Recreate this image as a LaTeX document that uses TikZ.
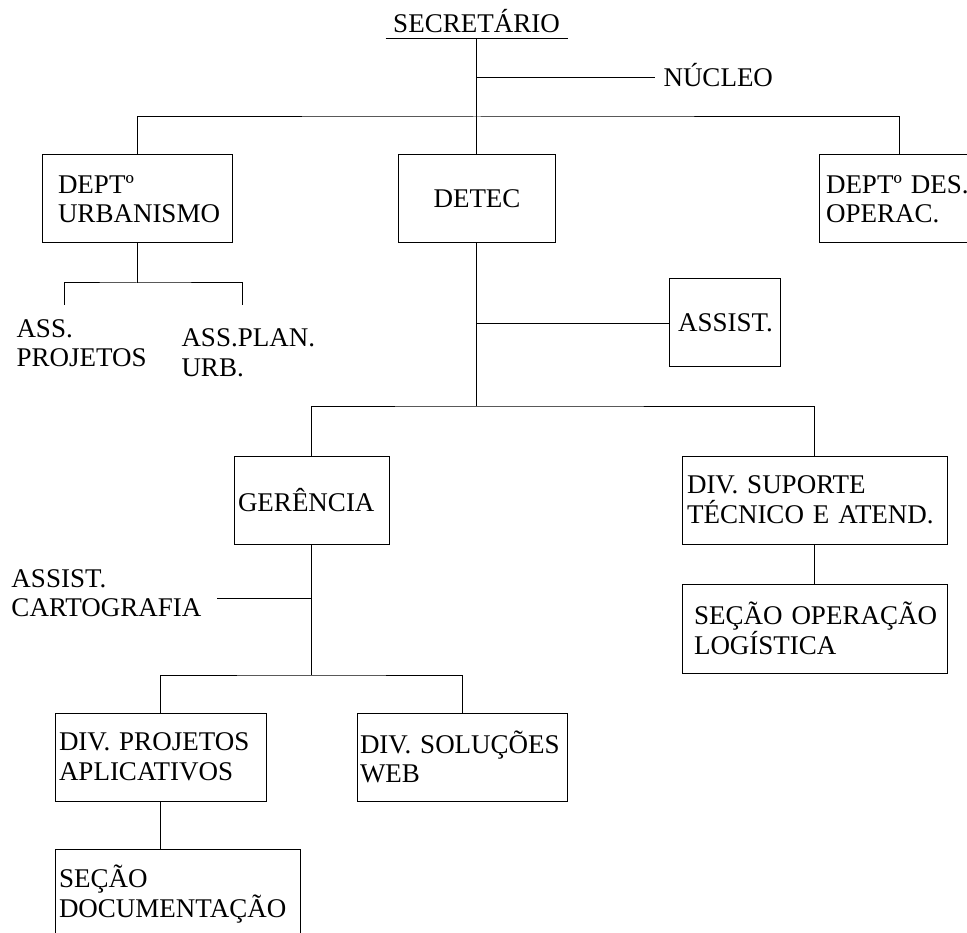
\documentclass[tikz,border=0pt]{standalone}
\usepackage{fontspec}
\setmainfont{Liberation Serif}
\begin{document}
\begin{tikzpicture}[x=1pt,y=-1pt,line width=1pt,
  every node/.style={font=\fontsize{27}{29.5}\selectfont},
  box/.style={draw,align=left,inner ysep=0pt},
  lbl/.style={inner sep=0pt,align=left}]
\useasboundingbox (0,0) rectangle (967,933);
% nodes
\node[anchor=base,minimum width=181pt,inner xsep=0pt,inner ysep=5pt,text depth=0pt] (sec) at (476.5,33) {SECRETÁRIO};
\node[anchor=base west,inner xsep=8pt,inner ysep=0pt] (nuc) at (655,87) {NÚCLEO};
\node[box,inner xsep=16pt,text width=158pt,minimum height=88pt] (urb) at (137,199) {DEPTº\\URBANISMO};
\node[box,align=center,inner xsep=4pt,text width=149pt,minimum height=88pt] (detec) at (477,199) {DETEC};
\node[box,inner xsep=7pt,text width=146pt,minimum height=88pt] (des) at (899,199) {DEPTº DES.\\OPERAC.};
\node[lbl,anchor=west] (assp) at (16,343) {ASS.\\PROJETOS};
\node[lbl,anchor=west] (aspu) at (181,353) {ASS.PLAN.\\URB.};
\node[box,inner xsep=9pt,text width=93pt,minimum height=88pt] (assist) at (724.5,323) {ASSIST.};
\node[box,inner xsep=4pt,text width=147pt,minimum height=88pt] (ger) at (311.5,500) {GERÊNCIA};
\node[box,inner xsep=5pt,text width=255pt,minimum height=88pt] (sup) at (814.5,500) {\mbox{DIV. SUPORTE}\\\mbox{TÉCNICO E ATEND.}};
\node[box,inner xsep=12pt,text width=241pt,minimum height=89pt] (sop) at (814.5,628.5) {\mbox{SEÇÃO OPERAÇÃO}\\LOGÍSTICA};
\node[lbl,anchor=west] (cart) at (11,593) {ASSIST.\\CARTOGRAFIA};
\node[box,inner xsep=4pt,text width=203pt,minimum height=88pt] (dp) at (160.5,757) {\mbox{DIV. PROJETOS}\\APLICATIVOS};
\node[box,inner xsep=3pt,text width=204pt,minimum height=88pt] (ds) at (462,757) {\mbox{DIV. SOLUÇÕES}\\WEB};
\node[box,inner xsep=4pt,text width=237pt,minimum height=90pt] (sdoc) at (177.5,894) {SEÇÃO\\DOCUMENTAÇÃO};
% connectors
\draw (sec.south west) -- (sec.south east);
\coordinate (jn) at (476.5,78);
\coordinate (j1) at (476.5,117);
\draw (sec.south) -- (sec.south |- detec.north);
\draw (jn) -- (jn -| nuc.west);
\draw (urb.north) |- (j1) -| (des.north);
\coordinate (u1) at (137,283);
\coordinate (la) at (64,305);
\coordinate (lb) at (242,305);
\draw (urb.south) -- (u1);
\draw (la) |- (u1) -| (lb);
\coordinate (d1) at (476.5,406);
\coordinate (da) at (476.5,324);
\draw (detec.south -| d1) -- (d1);
\draw (da) -- (da -| assist.west);
\draw (ger.north) |- (d1) -| (sup.north);
\draw (sup.south) -- (sop.north);
\coordinate (g1) at (311.5,675);
\coordinate (gc) at (311.5,598);
\coordinate (ce) at (217,598);
\draw (ger.south) -- (g1);
\draw (gc) -- (ce);
\draw (dp.north) |- (g1) -| (ds.north);
\draw (dp.south) -- (dp.south |- sdoc.north);
\end{tikzpicture}
\end{document}
